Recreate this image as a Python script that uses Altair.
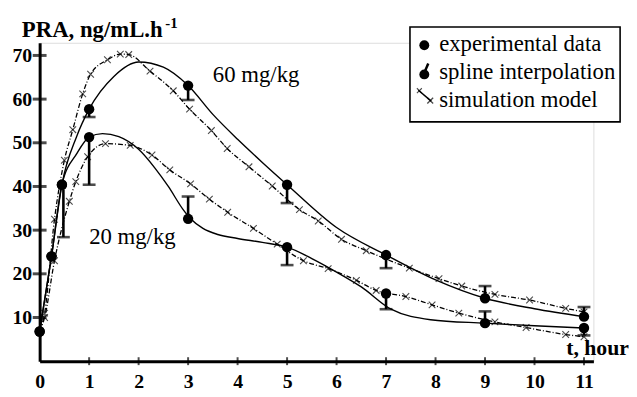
import altair as alt
import pandas as pd

FONT = "Liberation Serif"

# ---------------- data ----------------
# experimental data (mean values)
t_exp = [0, 0.24, 0.45, 1, 3, 5, 7, 9, 11]
exp_60 = [6.8, 24.0, 40.4, 57.7, 63.1, 40.4, 24.3, 14.4, 10.2]
exp_20 = [6.8, 24.0, 40.4, 51.3, 32.6, 26.1, 15.5, 8.7, 7.6]

# error bars (one-sided, from the mean to the bar end)
err_t_60 = [1, 3, 5, 7, 9, 11]
err_from_60 = [57.7, 63.1, 40.4, 24.3, 14.4, 10.2]
err_to_60 = [55.9, 59.8, 36.2, 21.3, 17.2, 12.4]
err_t_20 = [0.48, 1, 3, 5, 7, 9, 11]
err_from_20 = [39.3, 51.3, 32.6, 26.1, 15.5, 8.7, 7.6]
err_to_20 = [28.4, 40.4, 37.7, 22.0, 11.9, 11.4, 5.9]

# spline interpolation curves
t_spl_60 = [0, 0.24, 0.45, 0.75, 1, 1.5, 2, 2.5, 3, 3.5, 4, 4.5, 5, 6, 7, 8, 9, 10, 11]
spl_60 = [6.8, 24.0, 40.4, 51.5, 57.7, 65.2, 68.5, 67.3, 63.1, 56.5, 50.8, 45.5, 40.4,
          30.6, 24.3, 18.6, 14.4, 12.0, 10.2]
t_spl_20 = [0, 0.24, 0.45, 0.75, 1, 1.27, 1.6, 2, 2.33, 2.6, 2.9, 3.05, 3.3, 3.6, 4, 4.5,
            5, 5.5, 6, 6.5, 7.1, 7.9, 9, 10, 11]
spl_20 = [6.8, 24.0, 40.4, 47.5, 51.3, 52.1, 51.4, 48.5, 44.2, 40.0, 34.7, 32.6, 30.4,
          29.0, 28.1, 27.2, 26.1, 23.5, 20.4, 17.0, 11.9, 9.5, 8.7, 8.1, 7.6]

# simulation model curves (markers at the simulated points)
t_sim_60 = [0, 0.1, 0.3, 0.5, 0.67, 0.87, 1.03, 1.37, 1.63, 1.8, 2.23, 2.7, 3.03, 3.47,
            3.79, 4.23, 4.7, 5.25, 5.63, 6.1, 6.6, 7.47, 8.07, 8.53, 9.2, 9.9, 10.63, 11]
sim_60 = [6.8, 11.0, 32.5, 46.0, 53.0, 61.2, 65.7, 69.0, 70.3, 70.2, 66.4, 61.9, 57.7,
          52.8, 48.7, 44.5, 40.1, 34.7, 32.1, 27.9, 25.3, 21.3, 18.9, 17.2, 15.3, 14.0,
          12.1, 11.3]
t_sim_20 = [0, 0.1, 0.3, 0.6, 0.73, 0.97, 1.33, 1.83, 2.27, 2.63, 3.05, 3.43, 3.8, 4.32,
            4.8, 5.33, 5.83, 6.4, 6.8, 7.4, 7.93, 8.47, 9.2, 9.83, 10.63, 11]
sim_20 = [6.8, 10.0, 23.0, 36.6, 41.1, 46.8, 49.8, 49.4, 47.2, 43.8, 40.6, 37.1, 34.1,
          30.4, 26.8, 23.0, 21.2, 18.5, 16.2, 14.8, 12.9, 11.0, 9.0, 7.7, 6.1, 5.6]

x_ticks = list(range(0, 12))
y_ticks = [10, 20, 30, 40, 50, 60, 70]

legend_labels = ["experimental data", "spline interpolation", "simulation model"]

# ---------------- tables ----------------
def long(ts, a, b, name_a="60", name_b="20"):
    rows = [{"t": t, "v": v, "dose": name_a} for t, v in zip(ts[0], a)]
    rows += [{"t": t, "v": v, "dose": name_b} for t, v in zip(ts[1], b)]
    return pd.DataFrame(rows)

df_exp = long((t_exp, t_exp), exp_60, exp_20)
df_spl = long((t_spl_60, t_spl_20), spl_60, spl_20)
df_sim = long((t_sim_60, t_sim_20), sim_60, sim_20)
df_err = pd.DataFrame(
    [{"t": t, "v": a, "b": b, "dose": "60"} for t, a, b in zip(err_t_60, err_from_60, err_to_60)]
    + [{"t": t, "v": a, "b": b, "dose": "20"} for t, a, b in zip(err_t_20, err_from_20, err_to_20)]
)
df_cap = df_err[["t", "b"]].rename(columns={"b": "v"})
df_xt = pd.DataFrame({"t": x_ticks[1:], "v": [0] * (len(x_ticks) - 1)})
df_yt = pd.DataFrame({"t": [0] * len(y_ticks), "v": y_ticks})
df_lab = pd.DataFrame({"t": [3.5, 1.0], "v": [65.6, 28.4], "txt": ["60 mg/kg", "20 mg/kg"]})

xs = alt.Scale(domain=[0, 11.19], nice=False, zero=False)
ys = alt.Scale(domain=[0, 72.9], nice=False, zero=False)

x_axis = alt.Axis(
    values=x_ticks, title=None, grid=False, ticks=False, tickSize=0, labelPadding=11,
    labelFont=FONT, labelFontSize=20, labelFontWeight="bold", labelColor="black",
    domainColor="black", domainWidth=3, labelFlush=False)
y_axis = alt.Axis(
    values=y_ticks, title=None, grid=False, ticks=False, tickSize=0, labelPadding=8,
    labelFont=FONT, labelFontSize=20, labelFontWeight="bold", labelColor="black",
    domainColor="black", domainWidth=3)

X = alt.X("t:Q", scale=xs, axis=x_axis)
Y = alt.Y("v:Q", scale=ys, axis=y_axis)

xticks = alt.Chart(df_xt).mark_tick(color="black", thickness=2, size=8,
                                    orient="vertical").encode(x=X, y=Y)
yticks = alt.Chart(df_yt).mark_tick(color="black", thickness=3, size=14,
                                    orient="horizontal").encode(x=X, y=Y)
spline = alt.Chart(df_spl).mark_line(color="black", strokeWidth=1.4,
                                     interpolate="monotone").encode(x=X, y=Y, detail="dose:N")
sim_line = alt.Chart(df_sim).mark_line(color="black", strokeWidth=1.3,
                                       strokeDash=[5, 2, 1, 2],
                                       interpolate="monotone").encode(x=X, y=Y, detail="dose:N")
XSHAPE = "M-1,-1L1,1M-1,1L1,-1"
sim_pts = alt.Chart(df_sim[df_sim["t"] > 0.05]).mark_point(
    shape=XSHAPE, filled=False, color="black", size=45, strokeWidth=1.1).encode(x=X, y=Y)
err_rule = alt.Chart(df_err).mark_rule(color="black", strokeWidth=2.6).encode(
    x=X, y=Y, y2="b:Q")
err_cap = alt.Chart(df_cap).mark_tick(color="black", thickness=2.6, size=13,
                                      orient="horizontal").encode(x=X, y=Y)
dots = alt.Chart(df_exp).mark_point(shape="circle", filled=True, color="black",
                                    size=110, opacity=1).encode(x=X, y=Y)
dose_lab = alt.Chart(df_lab).mark_text(font=FONT, fontSize=23, align="left",
                                       baseline="middle", color="black").encode(
    x=X, y=Y, text="txt:N")

def label(txt, x, y, size, weight="normal", align="left"):
    return alt.Chart(pd.DataFrame({"txt": [txt]})).mark_text(
        font=FONT, fontSize=size, fontWeight=weight, align=align,
        baseline="alphabetic", color="black").encode(
        x=alt.value(x), y=alt.value(y), text="txt:N")

# axis titles (pixel positions relative to the plot origin at 40,41)
ytitle = label("PRA, ng/mL.h", -18, -6, 23, "bold")
ysup = label("-1", 127, -15, 15, "bold")
xtitle = label("t, hour", 596, 316, 22, "bold", align="right")

# legend
leg_box = alt.Chart(pd.DataFrame({"k": [0]})).mark_rect(
    fill="white", stroke="black", strokeWidth=1.6).encode(
    x=alt.value(374.5), x2=alt.value(587), y=alt.value(-16), y2=alt.value(80))
leg_t1 = label(legend_labels[0], 404, 8.5, 23)
leg_t2 = label(legend_labels[1], 404, 37, 23)
leg_t3 = label(legend_labels[2], 404, 65, 23)
leg_dot1 = alt.Chart(pd.DataFrame({"k": [0]})).mark_point(
    shape="circle", filled=True, color="black", size=100, opacity=1).encode(
    x=alt.value(389), y=alt.value(2.5))
leg_dot2 = alt.Chart(pd.DataFrame({"k": [0]})).mark_point(
    shape="circle", filled=True, color="black", size=100, opacity=1).encode(
    x=alt.value(389), y=alt.value(32))
leg_tick = alt.Chart(pd.DataFrame({"k": [0]})).mark_rule(
    color="black", strokeWidth=2.5).encode(
    x=alt.value(390), x2=alt.value(393), y=alt.value(28), y2=alt.value(21))
leg_simline = alt.Chart(pd.DataFrame({"k": [0]})).mark_rule(
    color="black", strokeWidth=1.5).encode(
    x=alt.value(383), x2=alt.value(396), y=alt.value(48), y2=alt.value(59))
leg_x1 = alt.Chart(pd.DataFrame({"k": [0]})).mark_point(
    shape=XSHAPE, filled=False, color="black", size=25, strokeWidth=1.1).encode(
    x=alt.value(384), y=alt.value(48.5))
leg_x2 = alt.Chart(pd.DataFrame({"k": [0]})).mark_point(
    shape=XSHAPE, filled=False, color="black", size=35, strokeWidth=1.3).encode(
    x=alt.value(395), y=alt.value(58.5))

final = alt.layer(
    xticks, yticks, spline, sim_line, sim_pts, err_rule, err_cap, dots,
    dose_lab, ytitle, ysup, xtitle,
    leg_box, leg_t1, leg_t2, leg_t3, leg_dot1, leg_dot2, leg_tick,
    leg_simline, leg_x1, leg_x2,
).properties(
    width=560, height=322,
    padding={"left": 32, "top": 33, "right": 36, "bottom": 29},
    autosize=alt.AutoSizeParams(type="none"),
).configure_view(stroke=None).configure(background="white")

final.save("out.html", embed_options={"renderer": "svg", "actions": False})
